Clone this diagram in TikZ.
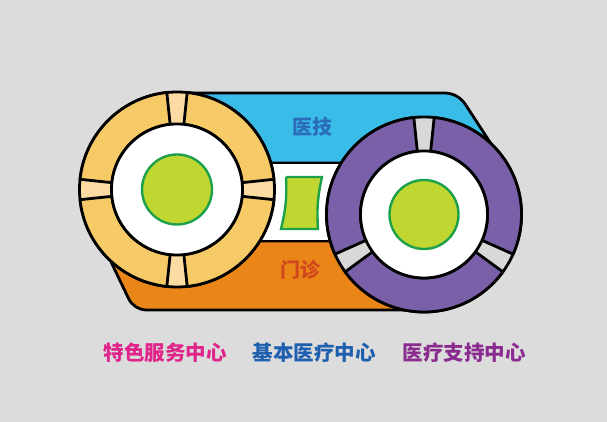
\documentclass[tikz,border=0pt]{standalone}
\usepackage{fontspec}
\newfontfamily\cjk{Noto Sans CJK SC}
\definecolor{bg}{HTML}{DCDCDC}
\definecolor{bandblue}{HTML}{3ABCE8}
\definecolor{bandorange}{HTML}{EA8518}
\definecolor{ringyellow}{HTML}{F6CA66}
\definecolor{ringlight}{HTML}{FCDCA2}
\definecolor{ringpurple}{HTML}{7A5FA9}
\definecolor{ringgray}{HTML}{D8D8D8}
\definecolor{coregreen}{HTML}{C0D631}
\definecolor{coreedge}{HTML}{1DA04A}
\definecolor{txtblue}{HTML}{2A6CB8}
\definecolor{txtorange}{HTML}{D2481E}
\definecolor{txtpink}{HTML}{E0248A}
\definecolor{txtnavy}{HTML}{1F60AE}
\definecolor{txtpurple}{HTML}{8A2C8F}
\tikzset{
  outline/.style={draw=black, line width=2.8pt, line join=round},
  core/.style={fill=coregreen, draw=coreedge, line width=2.4pt},
  lbl/.style={font=\cjk\bfseries\fontsize{20}{20}\selectfont, inner sep=0pt},
  biglbl/.style={font=\cjk\bfseries\fontsize{20.5}{20.5}\selectfont, inner sep=0pt}
}
\begin{document}
\begin{tikzpicture}[x=1pt,y=1pt]
\useasboundingbox (0,0) rectangle (607,422);
\fill[bg] (0,0) rectangle (607,422);
% bands
\path[outline,fill=bandblue] (177,259) -- (177,329) -- (444.4,329)
  arc[start angle=90,end angle=33,radius=25] -- (503.5,259) -- cycle;
\path[outline,fill=bandorange] (177,181) -- (101,181) -- (128.6,123.4)
  arc[start angle=205.5,end angle=270,radius=20] -- (424,112) -- (424,181) -- cycle;
\path[outline,fill=white] (177,181) rectangle (424,259);
% middle green piece
\path[core] (286,245) -- (322,245) to[bend right=8] (318,193) -- (281,193) to[bend right=8] (286,245);
% left ring
\coordinate (L) at (177,232.5);
\path[outline,fill=ringlight] (L) circle[radius=97.5];
\foreach \a in {0,90,180,270}{
  \path[outline,fill=ringyellow]
    ([shift={(\a+6:97.5)}]L) arc[start angle=\a+6,end angle=\a+84,radius=97.5]
    -- ([shift={(\a+84:65.5)}]L) arc[start angle=\a+84,end angle=\a+6,radius=65.5] -- cycle;
}
\path[outline,fill=white] (L) circle[radius=65.5];
\path[core] (L) circle[radius=35];
% right ring
\coordinate (R) at (424,207.5);
\path[outline,fill=ringgray] (R) circle[radius=97.5];
\foreach \a in {90,210,330}{
  \path[outline,fill=ringpurple]
    ([shift={(\a+6:97.5)}]R) arc[start angle=\a+6,end angle=\a+114,radius=97.5]
    -- ([shift={(\a+114:63.5)}]R) arc[start angle=\a+114,end angle=\a+6,radius=63.5] -- cycle;
}
\path[outline,fill=white] (R) circle[radius=63.5];
\path[core] (R) circle[radius=34.5];
% labels
\node[lbl,text=txtblue] (yiji) at (312,295) {医技};
\node[lbl,text=txtorange] (menzhen) at (300,152) {门诊};
\node[biglbl,text=txtpink] (tese) at (165,69) {特色服务中心};
\node[biglbl,text=txtnavy] (jiben) at (314,69) {基本医疗中心};
\node[biglbl,text=txtpurple] (zhichi) at (464,69) {医疗支持中心};
\end{tikzpicture}
\end{document}
